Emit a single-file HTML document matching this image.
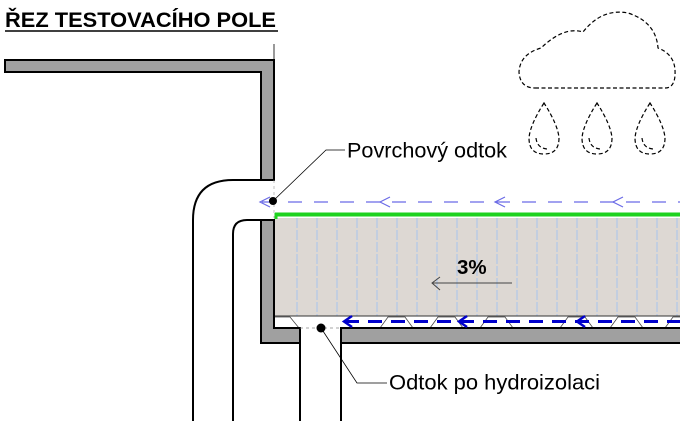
<!DOCTYPE html>
<html><head><meta charset="utf-8"><style>
html,body{margin:0;padding:0;background:#fff;}
svg{display:block;}
text{font-family:"Liberation Sans",Arial,sans-serif;}
</style></head><body>
<svg width="680" height="421" viewBox="0 0 680 421" xmlns="http://www.w3.org/2000/svg">
<!-- title -->
<text x="5" y="27" font-size="21.5" font-weight="bold" fill="#000" textLength="271" lengthAdjust="spacingAndGlyphs">ŘEZ TESTOVACÍHO POLE</text>
<line x1="5" y1="31" x2="278" y2="31" stroke="#000" stroke-width="1.5"/>
<line x1="274" y1="44" x2="274" y2="60" stroke="#000" stroke-width="0.8"/>

<!-- top wall -->
<path d="M5 60 H274 V180 H261 V72 H5 Z" fill="#a0a0a0" stroke="#000" stroke-width="2"/>

<!-- soil fill -->
<rect x="274" y="218" width="406" height="98" fill="#ddd8d3"/>
<g stroke="#a8c4ec" stroke-width="1" stroke-dasharray="10,2">
<line x1="297" y1="218" x2="297" y2="316"/><line x1="317" y1="218" x2="317" y2="316"/>
<line x1="337" y1="218" x2="337" y2="316"/><line x1="357" y1="218" x2="357" y2="316"/>
<line x1="377" y1="218" x2="377" y2="316"/><line x1="397" y1="218" x2="397" y2="316"/>
<line x1="417" y1="218" x2="417" y2="316"/><line x1="437" y1="218" x2="437" y2="316"/>
<line x1="457" y1="218" x2="457" y2="316"/><line x1="477" y1="218" x2="477" y2="316"/>
<line x1="497" y1="218" x2="497" y2="316"/><line x1="517" y1="218" x2="517" y2="316"/>
<line x1="537" y1="218" x2="537" y2="316"/><line x1="557" y1="218" x2="557" y2="316"/>
<line x1="577" y1="218" x2="577" y2="316"/><line x1="597" y1="218" x2="597" y2="316"/>
<line x1="617" y1="218" x2="617" y2="316"/><line x1="637" y1="218" x2="637" y2="316"/>
<line x1="657" y1="218" x2="657" y2="316"/><line x1="677" y1="218" x2="677" y2="316"/>
</g>
<line x1="274" y1="316" x2="680" y2="316" stroke="#333" stroke-width="1"/>
<!-- membrane zigzag -->
<path d="M274 317 H290 L299 328 M342 328 H380 L388 317 H405 L413 328 H430 L438 317 H455 L463 328 H480 L488 317 H505 L513 328 H560 L568 317 H585 L593 328 H610 L618 317 H635 L643 328 H665 L673 317 H680" fill="none" stroke="#444" stroke-width="0.8"/>

<!-- green line -->
<line x1="275" y1="214.5" x2="680" y2="214.5" stroke="#1ed21e" stroke-width="4"/>
<line x1="276" y1="213" x2="276" y2="219" stroke="#1ed21e" stroke-width="3"/>

<!-- lower wall -->
<path d="M261 220 H274 V328 H300 V343 H261 Z" fill="#a0a0a0" stroke="#000" stroke-width="2"/>
<path d="M341 328 H682 V343 H341 Z" fill="#a0a0a0" stroke="#000" stroke-width="2"/>
<line x1="300" y1="343" x2="300" y2="421" stroke="#000" stroke-width="2"/>
<line x1="341" y1="343" x2="341" y2="421" stroke="#000" stroke-width="2"/>
<line x1="300" y1="328" x2="341" y2="328" stroke="#888" stroke-width="0.7" stroke-dasharray="3,3"/>

<!-- pipe -->
<path d="M193 421 V220 Q193 180 233 180 H261" fill="none" stroke="#000" stroke-width="2"/>
<path d="M233 421 V234 Q233 220 247 220 H261" fill="none" stroke="#000" stroke-width="2"/>
<line x1="274" y1="180" x2="274" y2="218" stroke="#999" stroke-width="0.6" stroke-dasharray="3,3"/>

<!-- surface flow dashed -->
<line x1="262" y1="202" x2="680" y2="202" stroke="#6a6ae6" stroke-width="1.2" stroke-dasharray="14,12"/>
<g fill="none" stroke="#6a6ae6" stroke-width="1.2">
<path d="M270 197 L260 202 L270 207"/>
<path d="M390 197 L380 202 L390 207"/>
<path d="M505 197 L495 202 L505 207"/>
<path d="M623 197 L613 202 L623 207"/>
</g>

<!-- membrane flow -->
<line x1="345" y1="321.5" x2="680" y2="321.5" stroke="#0000cc" stroke-width="3" stroke-dasharray="14,9"/>
<g fill="none" stroke="#0000cc" stroke-width="2.5">
<path d="M352 316 L344 321.5 L352 327"/>
<path d="M467 316 L459 321.5 L467 327"/>
<path d="M585 316 L577 321.5 L585 327"/>
</g>

<!-- 3% -->
<text x="457" y="274" font-size="20.5" font-weight="bold" fill="#000">3%</text>
<line x1="432" y1="283" x2="512" y2="283" stroke="#444" stroke-width="1"/>
<path d="M440 277 L432 283 L440 290" fill="none" stroke="#444" stroke-width="1"/>

<!-- leaders -->
<circle cx="273" cy="201" r="4" fill="#000"/>
<path d="M273 201 L326 150 H345" fill="none" stroke="#000" stroke-width="0.8"/>
<text x="347" y="157.5" font-size="21.5" fill="#000" textLength="160" lengthAdjust="spacingAndGlyphs">Povrchový odtok</text>
<circle cx="321" cy="328" r="4.5" fill="#000"/>
<path d="M321 328 L357 383 H387" fill="none" stroke="#000" stroke-width="0.8"/>
<text x="389" y="389.5" font-size="21.5" fill="#000" textLength="211" lengthAdjust="spacingAndGlyphs">Odtok po hydroizolaci</text>

<!-- cloud -->
<path d="M535 88 H665 Q676 88 675 70 Q674 54 658 48 Q656 22 628 13 Q602 8 583 32 Q564 26 541 48 Q520 54 519 72 Q520 88 535 88 Z" fill="none" stroke="#000" stroke-width="1.2" stroke-dasharray="4,2.5"/>
<g fill="none" stroke="#000" stroke-width="1.2" stroke-dasharray="4,2.5">
<path d="M544 103 Q530 125 529 138 Q529 154 544 154 Q559 154 559 138 Q558 125 544 103 Z"/>
<path d="M536 138 Q537 148 547 149"/>
<path d="M597 103 Q583 125 582 138 Q582 154 597 154 Q612 154 612 138 Q611 125 597 103 Z"/>
<path d="M589 138 Q590 148 600 149"/>
<path d="M650 103 Q636 125 635 138 Q635 154 650 154 Q665 154 665 138 Q664 125 650 103 Z"/>
<path d="M642 138 Q643 148 653 149"/>
</g>
</svg>
</body></html>
